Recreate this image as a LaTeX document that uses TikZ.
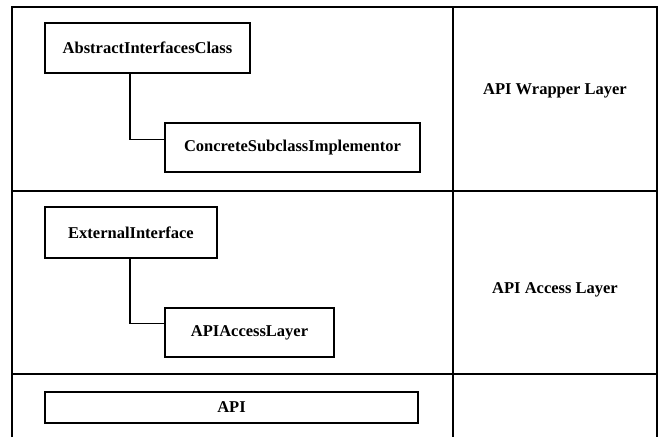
\documentclass[tikz,border=0pt]{standalone}
\usepackage{fontspec}
\setmainfont{Liberation Serif}
\begin{document}
\begin{tikzpicture}[x=1pt,y=-1pt,
  frame/.style={line width=1.5pt},
  classbox/.style={draw,line width=1.5pt,inner sep=0pt,font=\bfseries\fontsize{16.5}{18}\selectfont},
  layerlabel/.style={font=\bfseries\fontsize{16.5}{18}\selectfont},
  link/.style={line width=1.5pt}]
\useasboundingbox (0,0) rectangle (659,437);
\fill[white] (0,0) rectangle (659,437);
% layer table
\draw[frame] (12,437) -- (12,7) -- (657,7) -- (657,437);
\draw[frame] (453,7) -- (453,437);
\draw[frame] (12,191) -- (657,191);
\draw[frame] (12,374) -- (657,374);
% layer names
\node[layerlabel] (lw) at (555,91) {API Wrapper Layer};
\node[layerlabel] (la) at (555,290) {API Access Layer};
% classes
\node[classbox,minimum width=205pt,minimum height=50pt] (abs) at (147.5,48) {AbstractInterfacesClass};
\node[classbox,minimum width=255pt,minimum height=49pt] (conc) at (292.5,147.5) {ConcreteSubclassImplementor};
\node[classbox,minimum width=172pt,minimum height=51pt] (ext) at (131,232.5) {ExternalInterface};
\node[classbox,minimum width=169pt,minimum height=49pt] (acc) at (249.5,332.5) {APIAccessLayer};
\node[classbox,minimum width=373pt,minimum height=31pt] (api) at (231.5,407.5) {API};
% inheritance links
\coordinate (j1) at (130,0);
\draw[link] (abs.south -| j1) |- ([yshift=8pt]conc.west);
\draw[link] (ext.south -| j1) |- ([yshift=9pt]acc.west);
\end{tikzpicture}
\end{document}
